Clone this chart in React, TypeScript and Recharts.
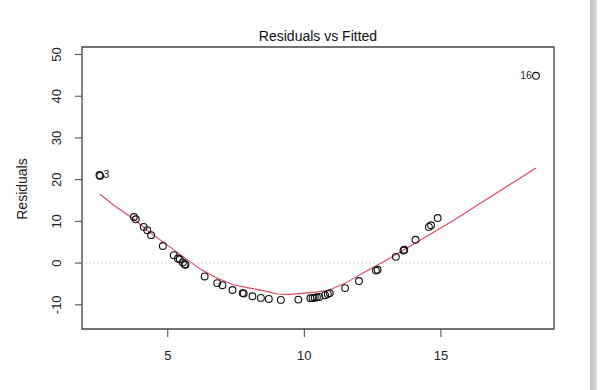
import * as React from "react";
import {
  ScatterChart,
  Scatter,
  XAxis,
  YAxis,
  ReferenceLine,
  ReferenceArea,
} from "recharts";

// fitted values and residuals
const fittedValues = [
  2.5, 2.52, 3.76, 3.83, 4.12, 4.25, 4.39, 4.82, 5.22, 5.37, 5.44, 5.55, 5.62,
  5.65, 6.35, 6.81, 7.0, 7.37, 7.74, 7.78, 8.1, 8.41, 8.7, 9.14, 9.78, 10.22,
  10.3, 10.38, 10.46, 10.55, 10.76, 10.86, 10.93, 11.49, 12.0, 12.62, 12.68,
  13.35, 13.63, 13.66, 14.07, 14.56, 14.64, 14.88, 18.48,
];
const residualValues = [
  21.1, 20.9, 11.05, 10.5, 8.67, 7.9, 6.7, 4.1, 1.9, 1.1, 0.9, 0.15, -0.25,
  -0.4, -3.2, -4.8, -5.3, -6.45, -7.2, -7.3, -7.95, -8.35, -8.6, -8.83, -8.75,
  -8.4, -8.35, -8.3, -8.2, -8.1, -7.7, -7.4, -7.2, -6.0, -4.3, -1.8, -1.6, 1.5,
  3.0, 3.2, 5.6, 8.67, 9.07, 10.8, 44.9,
];
// only the flagged observations get a label
const pointLabels: Record<number, string> = { 0: "3", 44: "16" };

// smoother (red line)
const smoothX = [
  2.52, 3.0, 3.7, 4.3, 4.8, 5.3, 5.7, 6.2, 6.8, 7.4, 8.0, 8.5, 9.0, 9.5, 10.0,
  10.5, 10.9, 11.5, 12.2, 12.9, 13.6, 14.5, 15.5, 16.5, 17.5, 18.48,
];
const smoothY = [
  16.5, 14.0, 10.8, 7.6, 5.2, 2.8, 0.9, -1.5, -3.6, -5.2, -6.0, -6.6, -7.4,
  -7.5, -7.2, -6.9, -6.5, -4.8, -2.2, 0.3, 3.0, 6.5, 10.4, 14.6, 18.7, 22.8,
];

const xTicks = [5, 10, 15];
const yTicks = [-10, 0, 10, 20, 30, 40, 50];

const xDomain: [number, number] = [1.86, 19.14];
const yDomain: [number, number] = [-15.8, 51.8];

const points = fittedValues.map((x, i) => ({
  x,
  y: residualValues[i],
  label: pointLabels[i],
}));
const smooth = smoothX.map((x, i) => ({ x, y: smoothY[i] }));

const FONT = "'Liberation Sans', Arial, sans-serif";

const OpenCircle = (props: any) => {
  const { cx, cy, payload } = props;
  const label = payload?.label;
  const onRight = payload && payload.x < 10;
  return (
    <g>
      <circle cx={cx} cy={cy} r={3.4} fill="none" stroke="#111" strokeWidth={1.1} />
      {label && (
        <text
          x={onRight ? cx + 4 : cx - 4}
          y={cy - 1}
          textAnchor={onRight ? "start" : "end"}
          dominantBaseline="central"
          fontSize={10.5}
          fontFamily={FONT}
          fill="#222"
        >
          {label}
        </text>
      )}
    </g>
  );
};

const YTick = (props: any) => {
  const { y, payload } = props;
  return (
    <text
      x={0}
      y={0}
      transform={`translate(56, ${y}) rotate(-90)`}
      textAnchor="middle"
      dominantBaseline="central"
      fontSize={13}
      fontFamily={FONT}
      fill="#222"
    >
      {payload.value}
    </text>
  );
};

export default function App() {
  return (
    <div
      style={{
        position: "absolute",
        left: 0,
        top: 0,
        width: 607,
        height: 390,
        background: "#fff",
      }}
    >
      <div
        style={{
          position: "absolute",
          left: 0,
          top: 28,
          width: 636,
          textAlign: "center",
          fontFamily: FONT,
          fontSize: 14,
          color: "#111",
        }}
      >
        Residuals vs Fitted
      </div>
      <div
        style={{
          position: "absolute",
          left: 14,
          top: 189,
          transform: "translate(-50%, -50%) rotate(-90deg)",
          transformOrigin: "center",
          fontFamily: FONT,
          fontSize: 14,
          color: "#222",
          whiteSpace: "nowrap",
          marginLeft: 8,
        }}
      >
        Residuals
      </div>
      <div
        style={{
          position: "absolute",
          left: 590,
          top: 0,
          width: 7,
          height: 390,
          background: "linear-gradient(to right, #bdbdbd, #dcdcdc)",
        }}
      />
      <ScatterChart
        width={607}
        height={390}
        margin={{ top: 47, right: 53, bottom: 0, left: 0 }}
        style={{ position: "absolute", left: 0, top: 0 }}
      >
        <XAxis
          type="number"
          dataKey="x"
          domain={xDomain}
          ticks={xTicks}
          allowDataOverflow
          height={61}
          axisLine={false}
          tickLine={{ stroke: "#444" }}
          tickSize={8}
          tick={{ fontSize: 13, fontFamily: FONT, fill: "#222", dy: 12 }}
        />
        <YAxis
          type="number"
          dataKey="y"
          domain={yDomain}
          ticks={yTicks}
          allowDataOverflow
          width={82}
          axisLine={false}
          tickLine={{ stroke: "#444" }}
          tickSize={7}
          tick={<YTick />}
        />
        <ReferenceArea
          x1={xDomain[0]}
          x2={xDomain[1]}
          y1={yDomain[0]}
          y2={yDomain[1]}
          fill="none"
          fillOpacity={0}
          stroke="#444"
          strokeWidth={1.3}
        />
        <ReferenceLine y={0} stroke="#bdbdbd" strokeDasharray="1 3" />
        <Scatter
          data={smooth}
          line={{ stroke: "#e0475a", strokeWidth: 1.1 }}
          shape={() => <g />}
          isAnimationActive={false}
        />
        <Scatter data={points} shape={<OpenCircle />} isAnimationActive={false} />
      </ScatterChart>
    </div>
  );
}
